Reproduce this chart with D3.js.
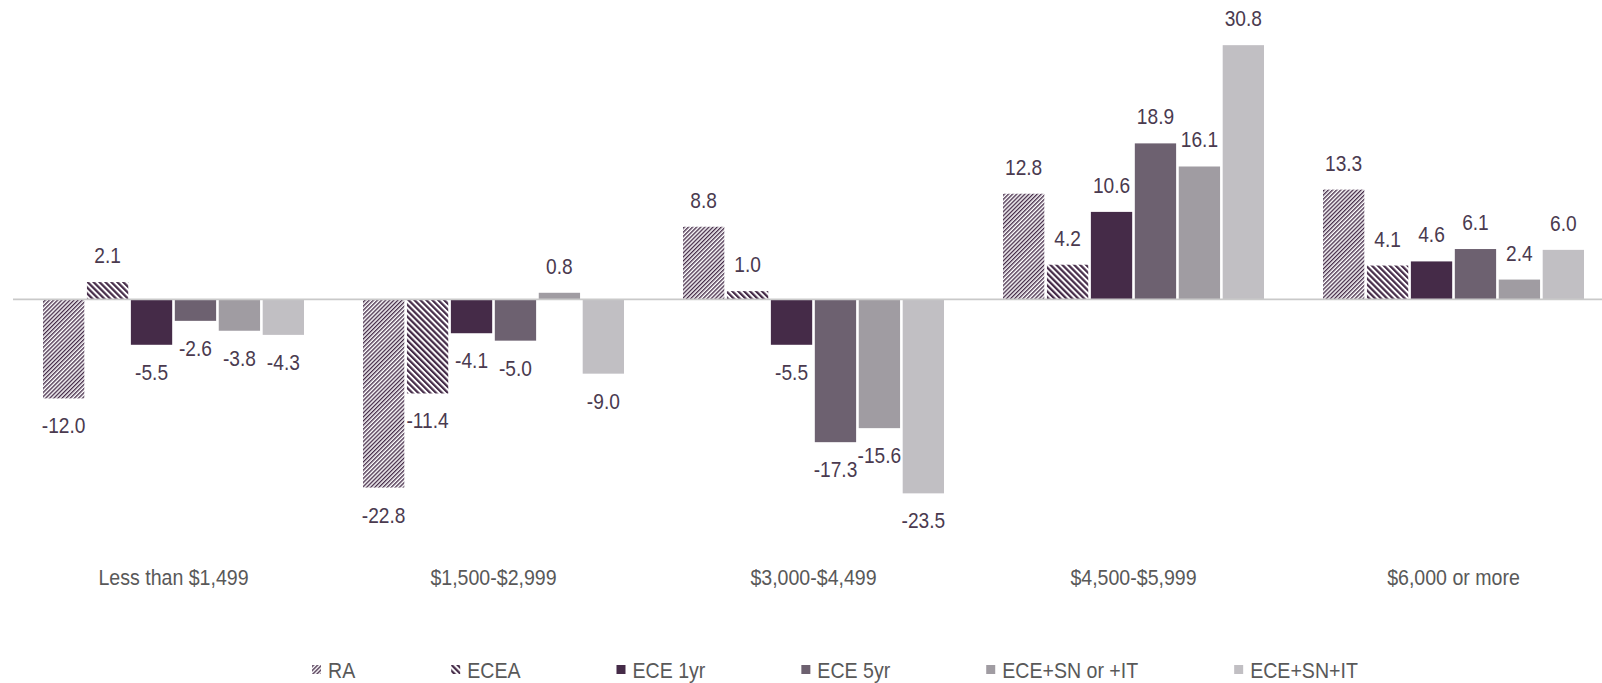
<!DOCTYPE html>
<html>
<head>
<meta charset="utf-8">
<script src="https://cdn.jsdelivr.net/npm/d3@7"></script>
<style>
  body { margin: 0; background: #fff; }
  svg { display: block; font-family: "Liberation Sans", Arial, sans-serif; }
</style>
</head>
<body>
<script>
// data
const categories = ["Less than $1,499", "$1,500-$2,999", "$3,000-$4,499", "$4,500-$5,999", "$6,000 or more"];
const series = ["RA", "ECEA", "ECE 1yr", "ECE 5yr", "ECE+SN or +IT", "ECE+SN+IT"];
const RA = [-12.0, -22.8, 8.8, 12.8, 13.3];
const ECEA = [2.1, -11.4, 1.0, 4.2, 4.1];
const ECE1yr = [-5.5, -4.1, -5.5, 10.6, 4.6];
const ECE5yr = [-2.6, -5.0, -17.3, 18.9, 6.1];
const ECESNorIT = [-3.8, 0.8, -15.6, 16.1, 2.4];
const ECESNIT = [-4.3, -9.0, -23.5, 30.8, 6.0];
const values = [RA, ECEA, ECE1yr, ECE5yr, ECESNorIT, ECESNIT];

const W = 1602, H = 683;
const plum = "#452b48";
const fills = ["url(#pRA)", "url(#pECEA)", plum, "#6d6170", "#a09ca2", "#c1bfc3"];
const narrow = 0.87; // squeeze text to look like Arial Narrow

const svg = d3.select("body").append("svg").attr("width", W).attr("height", H);

// patterns
const defs = svg.append("defs");
const pRA = defs.append("pattern").attr("id", "pRA")
  .attr("patternUnits", "userSpaceOnUse").attr("width", 2.9).attr("height", 8)
  .attr("patternTransform", "rotate(45)");
pRA.append("rect").attr("width", 2.9).attr("height", 8).attr("fill", "#fff");
pRA.append("rect").attr("width", 1.35).attr("height", 8).attr("fill", plum);

const pECEA = defs.append("pattern").attr("id", "pECEA")
  .attr("patternUnits", "userSpaceOnUse").attr("width", 4.2).attr("height", 8)
  .attr("patternTransform", "rotate(-45)");
pECEA.append("rect").attr("width", 4.2).attr("height", 8).attr("fill", "#fff");
pECEA.append("rect").attr("width", 2.2).attr("height", 8).attr("fill", plum);

// scales
const x0 = d3.scaleBand().domain(categories).range([13.5, 1613.5]).padding(0);
const x1 = d3.scaleBand().domain(series).range([29.5, 290.5]).paddingInner(0.06);
const y = d3.scaleLinear().domain([-30, 35]).range([547, 10.5]);

const rows = [];
categories.forEach((c, i) => {
  series.forEach((s, j) => rows.push({ c, s, j, v: values[j][i] }));
});

const g = svg.append("g");
g.selectAll("rect.bar")
  .data(rows)
  .join("rect")
  .attr("class", "bar")
  .attr("x", (d) => x0(d.c) + x1(d.s))
  .attr("width", x1.bandwidth())
  .attr("y", (d) => y(Math.max(0, d.v)))
  .attr("height", (d) => Math.abs(y(d.v) - y(0)))
  .attr("fill", (d) => fills[d.j]);

// zero line
svg.append("line")
  .attr("x1", 13).attr("x2", W)
  .attr("y1", y(0)).attr("y2", y(0))
  .attr("stroke", "#c9c9c9").attr("stroke-width", 1.6);

// data labels
g.selectAll("text.lab")
  .data(rows)
  .join("text")
  .attr("class", "lab")
  .attr("transform", (d) => {
    const lx = x0(d.c) + x1(d.s) + x1.bandwidth() / 2;
    const ly = d.v >= 0 ? y(d.v) - 19 : y(d.v) + 35;
    return `translate(${lx},${ly}) scale(${narrow},1)`;
  })
  .attr("text-anchor", "middle")
  .attr("font-size", 22)
  .attr("fill", "#4a3a4f")
  .text((d) => d.v.toFixed(1));

// category axis labels
svg.append("g")
  .attr("transform", "translate(0,585)")
  .call(d3.axisBottom(x0).tickSize(0).tickPadding(0))
  .call((a) => a.select(".domain").remove())
  .selectAll("text")
  .attr("dy", 0)
  .attr("y", 0)
  .attr("transform", `scale(${narrow + 0.02},1)`)
  .attr("font-size", 22)
  .attr("font-family", null)
  .attr("fill", "#595959");

// legend
const legend = svg.append("g").attr("transform", "translate(312,678)");
let lx = 0;
series.forEach((s, j) => {
  const item = legend.append("g").attr("transform", `translate(${lx},0)`);
  item.append("rect").attr("x", 0).attr("y", -13).attr("width", 9).attr("height", 9).attr("fill", fills[j]);
  const t = item.append("text")
    .attr("transform", `translate(16,0) scale(${narrow + 0.02},1)`)
    .attr("font-size", 22).attr("fill", "#595959").text(s);
  lx += 16 + t.node().getComputedTextLength() * (narrow + 0.02) + 96;
});
</script>
</body>
</html>
